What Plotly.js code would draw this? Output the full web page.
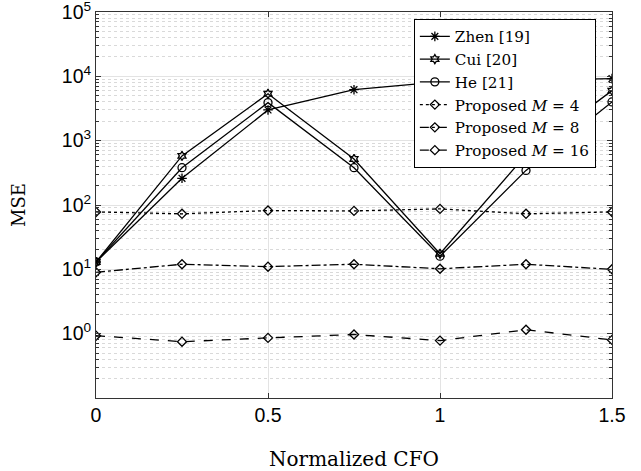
<!DOCTYPE html>
<html><head><meta charset="utf-8">
<script src="https://cdn.plot.ly/plotly-3.0.1.min.js"></script>
<style>body{margin:0;background:#fff}#c{width:641px;height:471px}</style>
</head><body><div id="c"></div>
<script>
const cfo = [0, 0.25, 0.5, 0.75, 1.0, 1.25, 1.5];
const zhen = [13, 260, 3000, 6200, 8200, 8800, 9200];
const cui = [13, 580, 5350, 520, 17.5, 600, 6000];
const he = [13, 380, 3900, 380, 16, 345, 4000];
const propM4 = [78, 73, 82, 81, 87, 73, 78];
const propM8 = [9, 12, 11, 12, 10.2, 12, 10];
const propM16 = [0.93, 0.75, 0.86, 0.97, 0.78, 1.15, 0.8];
const names = ["Zhen [19]", "Cui [20]", "He [21]", "Proposed <i>M</i> = 4", "Proposed <i>M</i> = 8", "Proposed <i>M</i> = 16"];
const yTickVals = [1, 10, 100, 1000, 10000, 100000];
const yTickText = ["10<sup>0</sup>", "10<sup>1</sup>", "10<sup>2</sup>", "10<sup>3</sup>", "10<sup>4</sup>", "10<sup>5</sup>"];
const xTickVals = [0, 0.5, 1, 1.5];
const xTickText = ["0", "0.5", "1", "1.5"];

function tr(y, name, dash, sym, msize) {
  return {x: cfo, y: y, name: name, type: 'scatter', mode: 'lines+markers',
    line: {color: '#000', width: 1.3, dash: dash},
    marker: {symbol: sym, size: msize, color: '#000', line: {color: '#000', width: 1.3}}};
}
const data = [
  tr(zhen, names[0], 'solid', 'asterisk-open', 8),
  tr(cui, names[1], 'solid', 'hexagram-open', 7),
  tr(he, names[2], 'solid', 'circle-open', 8),
  tr(propM4, names[3], 'dot', 'diamond-open', 7),
  tr(propM8, names[4], 'dashdot', 'diamond-open', 7),
  tr(propM16, names[5], 'dash', 'diamond-open', 7)
];
const serif = "DejaVu Serif";
const sans = "Liberation Sans";
const layout = {
  width: 641, height: 471,
  margin: {l: 96, r: 29, t: 12, b: 73},
  paper_bgcolor: '#fff', plot_bgcolor: '#fff',
  showlegend: true,
  legend: {x: 0.616, y: 0.982, xanchor: 'left', yanchor: 'top',
    bgcolor: '#fff', bordercolor: '#000', borderwidth: 1,
    font: {family: serif, size: 15.2, color: '#000'}, tracegroupgap: 0, itemwidth: 30},
  xaxis: {range: [0, 1.5], tickvals: xTickVals, ticktext: xTickText,
    tickfont: {family: sans, size: 19.5, color: '#000'}, ticklabeloverflow: 'allow',
    showgrid: true, gridcolor: '#e3e3e3', gridwidth: 1,
    ticks: 'inside', ticklen: 5, tickcolor: '#333',
    showline: true, linecolor: '#333', linewidth: 1, mirror: 'allticks',
    zeroline: false,
    title: {text: 'Normalized CFO', font: {family: serif, size: 20, color: '#000'}, standoff: 27}},
  yaxis: {type: 'log', range: [-1, 5], tickvals: yTickVals, ticktext: yTickText,
    tickfont: {family: sans, size: 19.5, color: '#000'}, ticklabeloverflow: 'allow',
    showgrid: true, gridcolor: '#e3e3e3', gridwidth: 1,
    ticks: 'inside', ticklen: 5, tickcolor: '#333',
    showline: true, linecolor: '#333', linewidth: 1, mirror: 'allticks',
    zeroline: false,
    minor: {dtick: 'D1', ticks: 'inside', ticklen: 3, tickcolor: '#333', showgrid: true, gridcolor: '#d9d9d9', griddash: 'dot', gridwidth: 1},
    title: {text: 'MSE', font: {family: serif, size: 18, color: '#000'}, standoff: 31}}
};
Plotly.newPlot('c', data, layout, {displayModeBar: false, staticPlot: true});
</script></body></html>
